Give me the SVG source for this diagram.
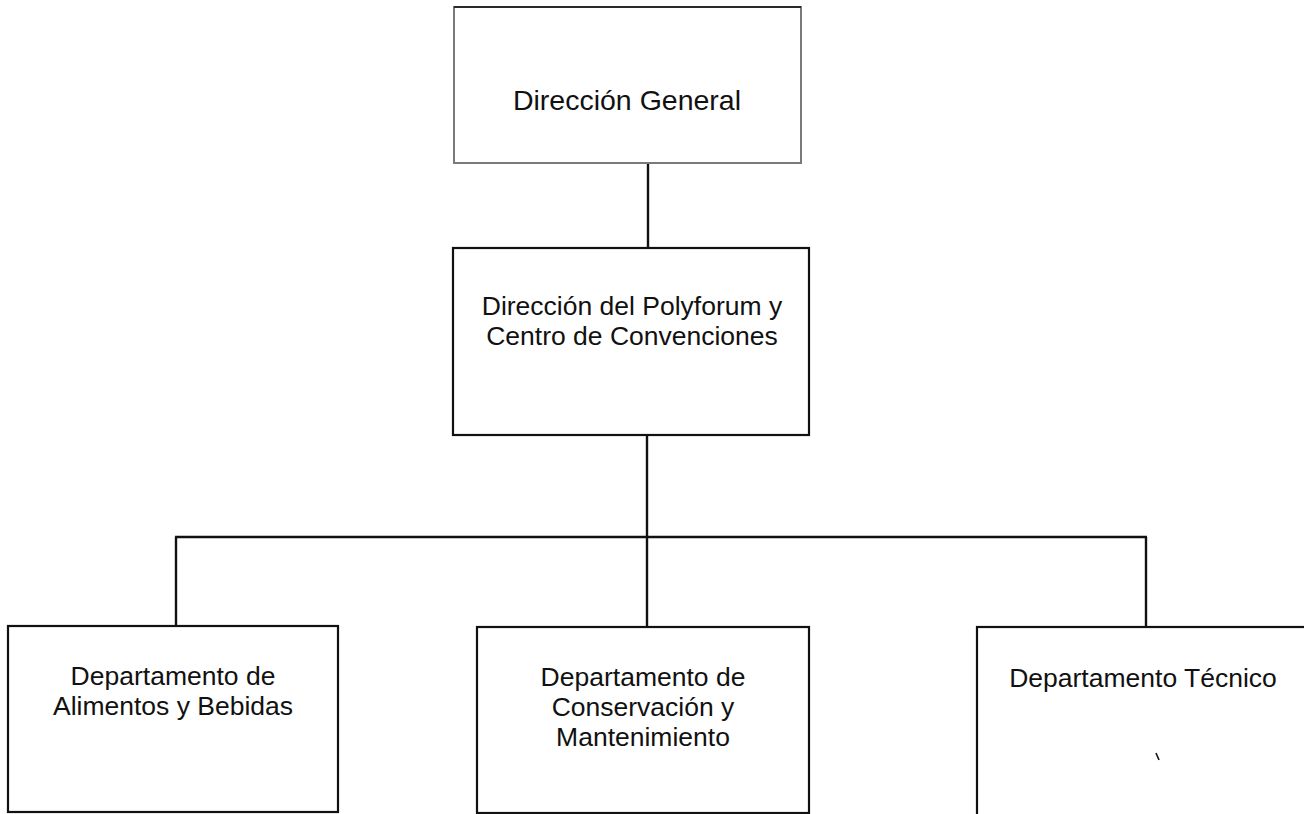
<svg xmlns="http://www.w3.org/2000/svg" width="1304" height="814" viewBox="0 0 1304 814">
  <style>
    .box { fill: #ffffff; stroke: #111111; stroke-width: 2.2; }
    .box-light { fill: #ffffff; stroke: #7a7a7a; stroke-width: 2; }
    .conn { fill: none; stroke: #111111; stroke-width: 2.4; }
    .lbl { font-family: "Liberation Sans", Arial, sans-serif; font-size: 26.5px; fill: #111111; text-anchor: middle; }
    .lbl-top { font-family: "Liberation Sans", Arial, sans-serif; font-size: 28.5px; fill: #111111; text-anchor: middle; }
  </style>
  <rect x="0" y="0" width="1304" height="814" fill="#ffffff"/>

  <g id="connectors">
    <line class="conn" x1="648" y1="163" x2="648" y2="248"/>
    <line class="conn" x1="647" y1="435" x2="647" y2="537"/>
    <line class="conn" x1="175" y1="537" x2="1147" y2="537"/>
    <line class="conn" x1="176" y1="537" x2="176" y2="626"/>
    <line class="conn" x1="647" y1="537" x2="647" y2="627"/>
    <line class="conn" x1="1146" y1="537" x2="1146" y2="627"/>
  </g>

  <g id="node-direccion-general">
    <rect class="box-light" x="454" y="7" width="347" height="156"/>
    <line x1="454" y1="7" x2="801" y2="7" stroke="#111111" stroke-width="1.5"/>
    <text class="lbl-top" x="627" y="110">Dirección General</text>
  </g>

  <g id="node-direccion-polyforum">
    <rect class="box" x="453" y="248" width="356" height="187"/>
    <text class="lbl" x="632" y="315">Dirección del Polyforum y</text>
    <text class="lbl" x="632" y="345">Centro de Convenciones</text>
  </g>

  <g id="node-alimentos">
    <rect class="box" x="8" y="626" width="330" height="186"/>
    <text class="lbl" x="173" y="685">Departamento de</text>
    <text class="lbl" x="173" y="715">Alimentos y Bebidas</text>
  </g>

  <g id="node-conservacion">
    <rect class="box" x="477" y="627" width="332" height="186"/>
    <text class="lbl" x="643" y="686">Departamento de</text>
    <text class="lbl" x="643" y="716">Conservación y</text>
    <text class="lbl" x="643" y="746">Mantenimiento</text>
  </g>

  <g id="node-tecnico">
    <rect class="box" x="977" y="627" width="340" height="200"/>
    <text class="lbl" x="1143" y="687">Departamento Técnico</text>
    <line x1="1156" y1="753" x2="1159" y2="760" stroke="#111111" stroke-width="1.6"/>
  </g>
</svg>
